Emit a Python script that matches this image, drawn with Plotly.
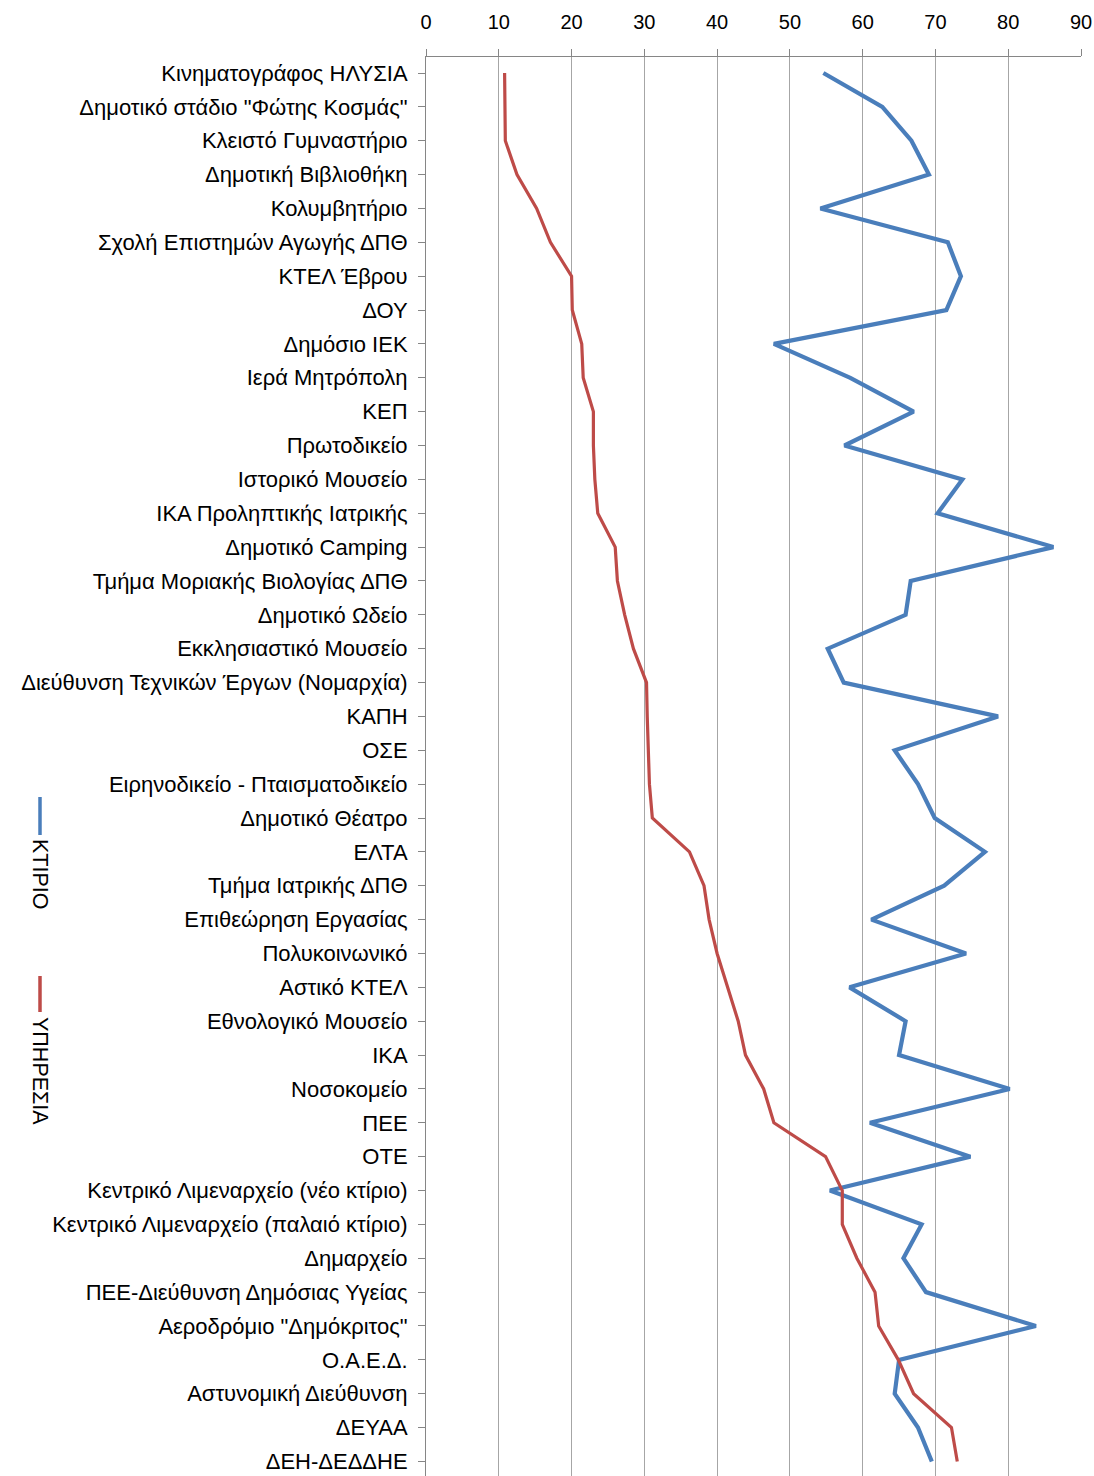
import plotly.graph_objects as go

categories = [
    "Κινηματογράφος ΗΛΥΣΙΑ",
    "Δημοτικό στάδιο \"Φώτης Κοσμάς\"",
    "Κλειστό Γυμναστήριο",
    "Δημοτική Βιβλιοθήκη",
    "Κολυμβητήριο",
    "Σχολή Επιστημών Αγωγής ΔΠΘ",
    "ΚΤΕΛ Έβρου",
    "ΔΟΥ",
    "Δημόσιο ΙΕΚ",
    "Ιερά Μητρόπολη",
    "ΚΕΠ",
    "Πρωτοδικείο",
    "Ιστορικό Μουσείο",
    "ΙΚΑ Προληπτικής Ιατρικής",
    "Δημοτικό Camping",
    "Τμήμα Μοριακής Βιολογίας ΔΠΘ",
    "Δημοτικό Ωδείο",
    "Εκκλησιαστικό Μουσείο",
    "Διεύθυνση Τεχνικών Έργων (Νομαρχία)",
    "ΚΑΠΗ",
    "ΟΣΕ",
    "Ειρηνοδικείο - Πταισματοδικείο",
    "Δημοτικό Θέατρο",
    "ΕΛΤΑ",
    "Τμήμα Ιατρικής ΔΠΘ",
    "Επιθεώρηση Εργασίας",
    "Πολυκοινωνικό",
    "Αστικό ΚΤΕΛ",
    "Εθνολογικό Μουσείο",
    "ΙΚΑ",
    "Νοσοκομείο",
    "ΠΕΕ",
    "ΟΤΕ",
    "Κεντρικό Λιμεναρχείο (νέο κτίριο)",
    "Κεντρικό Λιμεναρχείο (παλαιό κτίριο)",
    "Δημαρχείο",
    "ΠΕΕ-Διεύθυνση Δημόσιας Υγείας",
    "Αεροδρόμιο \"Δημόκριτος\"",
    "Ο.Α.Ε.Δ.",
    "Αστυνομική Διεύθυνση",
    "ΔΕΥΑΑ",
    "ΔΕΗ-ΔΕΔΔΗΕ",
]

ktirio = [54.6, 62.7, 66.7, 69.1, 54.2, 71.7, 73.5, 71.5, 47.8, 58.3,
          67.0, 57.5, 73.7, 70.3, 86.2, 66.6, 65.9, 55.2, 57.4, 78.6,
          64.4, 67.6, 69.9, 76.8, 71.2, 61.2, 74.2, 58.2, 65.9, 65.0,
          80.2, 61.0, 74.8, 55.5, 68.1, 65.6, 68.7, 83.8, 65.0, 64.4,
          67.6, 69.5]

ypiresia = [10.8, 10.9, 10.9, 12.5, 15.2, 17.1, 20.0, 20.1, 21.4, 21.6,
            23.0, 23.0, 23.2, 23.6, 26.0, 26.3, 27.3, 28.5, 30.3, 30.4,
            30.5, 30.7, 31.1, 36.2, 38.2, 38.9, 40.0, 41.5, 42.9, 43.9,
            46.4, 47.8, 54.9, 57.2, 57.2, 59.2, 61.7, 62.2, 64.9, 67.0,
            72.2, 73.0]

x_ticks = [0, 10, 20, 30, 40, 50, 60, 70, 80, 90]
series_names = ["ΚΤΙΡΙΟ", "ΥΠΗΡΕΣΙΑ"]
colors = ["#4A7EBB", "#BE4B48"]

FONT = "Liberation Sans, Arial, sans-serif"
W, H = 1094, 1476
L, R, T, B = 426, 13, 57, 0
PW, PH = W - L - R, H - T - B

fig = go.Figure()
fig.add_trace(go.Scatter(x=ktirio, y=categories, mode="lines", name=series_names[0],
                         line=dict(color=colors[0], width=4.2), showlegend=False))
fig.add_trace(go.Scatter(x=ypiresia, y=categories, mode="lines", name=series_names[1],
                         line=dict(color=colors[1], width=3.2), showlegend=False))

def px_to_paper_x(px):
    return (px - L) / PW

def px_to_paper_y(py):
    return (H - B - py) / PH

# custom vertical legend (rotated labels)
legend_items = [
    (series_names[0], colors[0], 797, 835, 874),
    (series_names[1], colors[1], 976, 1012, 1071),
]
for name, col, y0, y1, ytxt in legend_items:
    fig.add_shape(type="line", xref="paper", yref="paper",
                  x0=px_to_paper_x(40), x1=px_to_paper_x(40),
                  y0=px_to_paper_y(y0), y1=px_to_paper_y(y1),
                  line=dict(color=col, width=3.5))
    fig.add_annotation(xref="paper", yref="paper", x=px_to_paper_x(40), y=px_to_paper_y(ytxt),
                       text=name, showarrow=False, textangle=90,
                       font=dict(family=FONT, size=21.5, color="#000000"),
                       xanchor="center", yanchor="middle")

fig.update_layout(
    width=W, height=H,
    margin=dict(l=L, r=R, t=T, b=B, pad=0, autoexpand=False),
    paper_bgcolor="white", plot_bgcolor="white",
    font=dict(family=FONT, size=22, color="#000000"),
    showlegend=False,
)
fig.update_xaxes(
    side="top", range=[0, 90], tickvals=x_ticks, ticktext=[str(v) for v in x_ticks],
    showgrid=True, gridcolor="#A6A6A6", gridwidth=1,
    showline=True, linecolor="#868686", linewidth=1,
    ticks="outside", ticklen=7, tickcolor="#868686", ticklabelstandoff=12,
    tickfont=dict(family=FONT, size=20), zeroline=False, automargin=False,
)
fig.update_yaxes(
    type="category", categoryorder="array", categoryarray=categories,
    range=[41.43, -0.4725],
    showgrid=False, showline=True, linecolor="#868686", linewidth=1,
    ticks="outside", ticklen=7, tickcolor="#868686", ticklabelstandoff=6,
    tickfont=dict(family=FONT, size=22), automargin=False,
)

fig.write_html(
    "out.html",
    config={"displayModeBar": False},
    post_script="document.body.style.margin='0';document.body.style.overflow='hidden';",
)
